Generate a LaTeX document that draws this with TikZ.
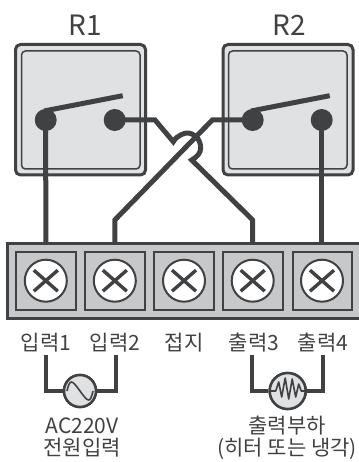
\documentclass[tikz,border=0pt]{standalone}
\usepackage{fontspec}
\setmainfont{Noto Sans CJK KR}
\definecolor{ink}{HTML}{404143}
\definecolor{relayfill}{HTML}{E0E1E3}
\definecolor{blockfill}{HTML}{C7C8CA}
\begin{document}
\begin{tikzpicture}[x=1pt,y=-1pt,
  lbl/.style={text=ink,font=\fontsize{21}{21}\selectfont,inner sep=0pt,anchor=base},
  title/.style={text=ink,font=\fontsize{28}{28}\selectfont,inner sep=0pt,anchor=base},
  outerbox/.style={draw=ink,fill=relayfill,line width=3pt,rounded corners=5pt},
  innerbox/.style={draw=ink,line width=1.5pt,rounded corners=4pt},
  dot/.style={circle,fill=ink,draw=none,minimum size=22pt,inner sep=0pt},
  arm/.style={draw=ink,line width=5pt},
  wire/.style={draw=ink,line width=5pt,miter limit=10},
  thin wire/.style={draw=ink,line width=4.4pt},
  cell/.style={draw=ink,line width=2pt},
  screw/.style={circle,draw=ink,fill=white,line width=2pt,minimum size=42pt,inner sep=0pt},
  cross/.style={draw=ink,line width=3.4pt},
  src/.style={circle,draw=ink,fill=relayfill,line width=2.5pt,inner sep=0pt}]
\useasboundingbox (0,0) rectangle (358,462);
% relays
\draw[outerbox] (15.5,44.5) rectangle (145.5,175);
\draw[innerbox] (21.5,51) rectangle (140,169);
\draw[outerbox] (223,44.5) rectangle (353,175);
\draw[innerbox] (228.5,51) rectangle (347,169);
\node[title] (r1) at (85,36) {R1};
\node[title] (r2) at (289.5,36) {R2};
% contacts
\node[dot] (p1) at (45.7,120) {};
\node[dot] (c1) at (114.7,120) {};
\node[dot] (p2) at (252.7,120) {};
\node[dot] (c2) at (321.7,120) {};
\coordinate (a1) at (122.7,95.7);
\coordinate (a2) at (329.7,95.7);
\draw[arm] (44,111) -- (a1);
\draw[arm] (251,111) -- (a2);
% wires to block
\coordinate (e1) at (45.8,243);
\coordinate (e2) at (114.8,243);
\coordinate (e4) at (252.7,243);
\coordinate (e5) at (321.7,243);
\draw[wire] (p1.center) -- (e1);
\draw[wire] (c2.center) -- (e5);
\draw[wire] (c1.center) -- (155,120) -- (173.3,141.7) .. controls (177,135) and (185,133) .. (187,133) .. controls (195,133) and (200.7,140) .. (200.7,148) .. controls (200.7,153) and (197,157) .. (191.7,160) -- (252.7,220) -- (e4);
\draw[wire] (p2.center) -- (212.3,120) -- (114.8,220) -- (e2);
% terminal block
\draw[draw=ink,fill=blockfill,line width=3pt] (7.5,243.5) -- (362,243.5) -- (362,318) -- (7.5,318) -- cycle;
\foreach \n/\a/\b in {1/16/75.5,2/85/144.7,3/154/214,4/223/282.5,5/292.5/351.7}
  \draw[cell] (\a,252) rectangle (\b,310);
\foreach \n/\x in {1/45.8,2/114.8,3/184,4/252.7,5/322}{
  \node[screw] (s\n) at (\x,280.7) {};
  \draw[cross] ([shift={(-12,-10.5)}]s\n.center) -- ([shift={(12,10.5)}]s\n.center);
  \draw[cross] ([shift={(-12,10.5)}]s\n.center) -- ([shift={(12,-10.5)}]s\n.center);
}
% labels
\node[lbl] (l1) at (46,350.7) {입력1};
\node[lbl] (l2) at (115,350.7) {입력2};
\node[lbl] (l3) at (184,350.7) {접지};
\node[lbl] (l4) at (254,350.7) {출력3};
\node[lbl] (l5) at (323,350.7) {출력4};
% loads
\node[src,minimum size=32pt] (ac) at (80,391) {};
\node[src,minimum size=36pt] (load) at (287.7,391) {};
\coordinate (la) at (46,355); \coordinate (lb) at (115.7,355);
\coordinate (lc) at (251.7,355); \coordinate (ld) at (323,355);
\draw[thin wire] (la) -- (la |- ac) -- (ac);
\draw[thin wire] (lb) -- (lb |- ac) -- (ac);
\draw[thin wire] (lc) -- (lc |- load) -- (load);
\draw[thin wire] (ld) -- (ld |- load) -- (load);
\node[src,minimum size=32pt] at (ac) {};
\node[src,minimum size=36pt] at (load) {};
\draw[draw=ink,line width=1.6pt] ([shift={(-13,0)}]ac.center) .. controls +(3,-13) and +(-8,-11) .. (ac.center) .. controls +(8,11) and +(-3,13) .. ([shift={(13,0)}]ac.center);
\draw[draw=ink,line width=1.6pt,line join=round] ([shift={(-18,0)}]load.center) -- ++(6,0) -- ++(3,-9) -- ++(3,15) -- ++(3.5,-19) -- ++(3.5,21) -- ++(3.5,-20) -- ++(3.5,18) -- ++(3,-13) -- ++(2.5,7) -- ++(4,0);
\node[lbl] (t1) at (82,433.3) {AC220V};
\node[lbl] (t2) at (82,455.5) {전원입력};
\node[lbl] (t3) at (287,433.3) {출력부하};
\node[lbl] (t4) at (287,455.5) {(히터 또는 냉각)};
\end{tikzpicture}
\end{document}
